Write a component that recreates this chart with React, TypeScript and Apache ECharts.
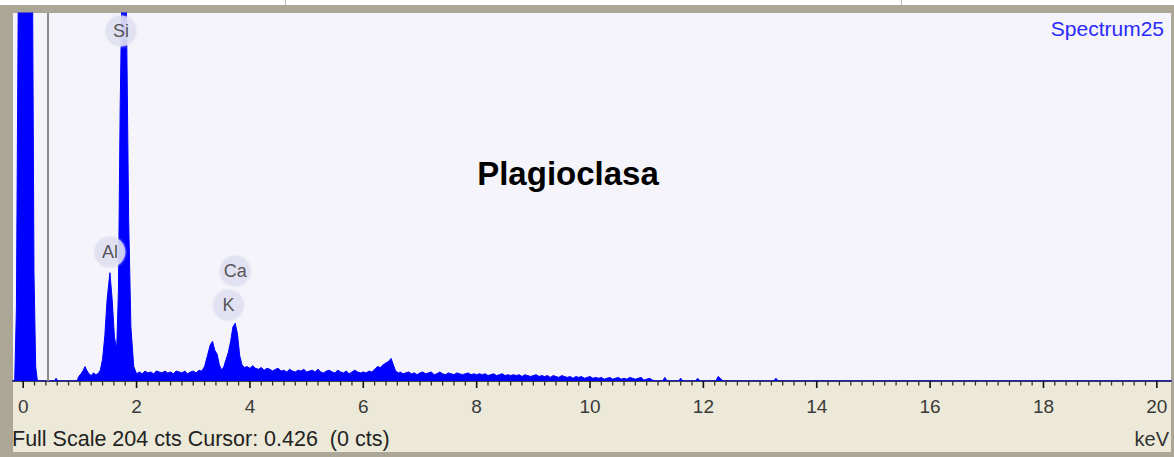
import React, { useEffect, useRef } from 'react';
import * as echarts from 'echarts';

// ---- Spectrum data: [energy keV, counts] ----
const zeroStrobePeak: [number, number][] = [
  [-0.2, 0], [-0.15, 0], [-0.12, 40], [-0.08, 250], [0.16, 250], [0.19, 60], [0.22, 8], [0.25, 0],
  [0.55, 0], [0.58, 1.5], [0.61, 0], [0.95, 0],
];
const lowBackground: [number, number][] = [
  [0.98, 2.5], [1.02, 4], [1.06, 6], [1.09, 8], [1.12, 6], [1.16, 4], [1.2, 3], [1.24, 4.5],
  [1.28, 3.5], [1.32, 4], [1.36, 6],
];
const alSiPeaks: [number, number][] = [
  [1.4, 12], [1.44, 25], [1.48, 45], [1.53, 60], [1.57, 45], [1.61, 24], [1.65, 18],
  [1.68, 50], [1.71, 150], [1.74, 215], [1.78, 260], [1.82, 210], [1.86, 90], [1.9, 30],
  [1.95, 8],
];
const background1: [number, number][] = [
  [2.0, 4], [2.05, 5], [2.1, 4], [2.15, 5.5], [2.2, 4.5], [2.25, 5], [2.3, 4], [2.35, 5.5],
  [2.4, 5], [2.45, 4.5], [2.5, 5.5], [2.55, 4.5], [2.6, 5], [2.65, 4], [2.7, 5.5], [2.75, 5],
  [2.8, 4.5], [2.85, 5.5], [2.9, 4], [2.95, 5], [3.0, 5.5], [3.05, 4.5], [3.1, 6], [3.15, 5.5],
  [3.2, 8],
];
const kCaPeaks: [number, number][] = [
  [3.25, 14], [3.3, 20], [3.34, 22], [3.38, 17], [3.42, 15], [3.46, 9], [3.5, 6], [3.54, 8],
  [3.58, 12], [3.62, 16], [3.66, 22], [3.7, 30], [3.74, 32], [3.78, 26], [3.82, 14], [3.86, 9],
  [3.9, 7.5],
];
const background2: [number, number][] = [
  [3.95, 8], [4.0, 7], [4.05, 8.5], [4.1, 7], [4.15, 6.5], [4.2, 7.5], [4.25, 6], [4.3, 7],
  [4.35, 6.5], [4.4, 5.5], [4.45, 6.5], [4.5, 7], [4.55, 5.5], [4.6, 6], [4.65, 5], [4.7, 6.5],
  [4.75, 5.5], [4.8, 5], [4.85, 6], [4.9, 5.5], [4.95, 6.5], [5.0, 5], [5.05, 5.5], [5.1, 6],
  [5.15, 5], [5.2, 6.5], [5.25, 5], [5.3, 4.5], [5.35, 5.5], [5.4, 6], [5.45, 5], [5.5, 4.5],
  [5.55, 6], [5.6, 5], [5.65, 4.5], [5.7, 5.5], [5.75, 4], [5.8, 5], [5.85, 6], [5.9, 5],
  [5.95, 4.5], [6.0, 5], [6.05, 4.5], [6.1, 5.5], [6.15, 5], [6.2, 6.5],
];
const fePeak: [number, number][] = [
  [6.25, 8], [6.3, 7.5], [6.35, 9], [6.4, 10], [6.45, 11], [6.49, 12.5], [6.53, 9], [6.57, 5.5],
  [6.62, 4.5],
];
const background3: [number, number][] = [
  [6.65, 5], [6.7, 4], [6.75, 4.5], [6.8, 5], [6.85, 4], [6.9, 4.5], [6.95, 3.5], [7.0, 4.5],
  [7.05, 5], [7.1, 4], [7.15, 4.5], [7.2, 5], [7.25, 3.5], [7.3, 4], [7.35, 5], [7.4, 4],
  [7.45, 3.5], [7.5, 4.5], [7.55, 4], [7.6, 3.5], [7.65, 4.5], [7.7, 4], [7.75, 3.5], [7.8, 4],
  [7.85, 4.5], [7.9, 3.5], [7.95, 4], [8.0, 3.5], [8.05, 4], [8.1, 3.5], [8.15, 4], [8.2, 3],
  [8.25, 3.5], [8.3, 4], [8.35, 3], [8.4, 3.5], [8.45, 4], [8.5, 3], [8.55, 3.5], [8.6, 3],
  [8.65, 3.5], [8.7, 3], [8.75, 3.5], [8.8, 2.5], [8.85, 3.5], [8.9, 3], [8.95, 2.5], [9.0, 3],
  [9.05, 3.5], [9.1, 2.5], [9.15, 3], [9.2, 2.5], [9.25, 3], [9.3, 2], [9.35, 3], [9.4, 2.5],
  [9.45, 2], [9.5, 3], [9.55, 2.5], [9.6, 2], [9.65, 2.5], [9.7, 1.5], [9.75, 2.5], [9.8, 2],
  [9.85, 2.5], [9.9, 1.5], [9.95, 2], [10.0, 2.5], [10.05, 1.5], [10.1, 2], [10.15, 1.5],
  [10.2, 2], [10.25, 1], [10.3, 1.5], [10.35, 2], [10.4, 1], [10.45, 1.5], [10.5, 2], [10.55, 1],
  [10.6, 1.5], [10.65, 1], [10.7, 2], [10.75, 1.5], [10.8, 1], [10.85, 1.5], [10.9, 2],
  [10.95, 0.5], [11.0, 1], [11.05, 1.5], [11.1, 0.5],
];
const sparseTail: [number, number][] = [
  [11.15, 0], [11.28, 0], [11.32, 2], [11.36, 0], [11.56, 0], [11.6, 1.5], [11.64, 0],
  [11.86, 0], [11.9, 1.5], [11.94, 0], [12.22, 0], [12.26, 2.5], [12.3, 1.5], [12.34, 0],
  [13.24, 0], [13.28, 1.5], [13.32, 0], [20.3, 0],
];

// ---- Element markers ----
const elementNames = ['Si', 'Al', 'Ca', 'K'];
const elementKeV = [1.725, 1.53, 3.74, 3.62];
const elementLabelCts = [194, 71.5, 61, 42];

// ---- Axis ----
const majorTicks = [0, 2, 4, 6, 8, 10, 12, 14, 16, 18, 20];
const tickLabels = ['0', '2', '4', '6', '8', '10', '12', '14', '16', '18', '20'];
const minorTickStep = 0.2;
const fullScaleCts = 204;
const cursorKeV = 0.426;
const cursorCts = 0;

const spectrum = [
  ...zeroStrobePeak, ...lowBackground, ...alSiPeaks, ...background1, ...kCaPeaks,
  ...background2, ...fePeak, ...background3, ...sparseTail,
];

const FONT = '"Liberation Sans", Arial, sans-serif';

export default function App() {
  const ref = useRef<HTMLDivElement>(null);
  useEffect(() => {
    if (!ref.current) return;
    const chart = echarts.init(ref.current, undefined, { renderer: 'svg' });
    const tickData: [number, number][] = [];
    for (let i = 0; i <= 100; i++) {
      const v = Math.round(i * minorTickStep * 10) / 10;
      tickData.push([v, majorTicks.indexOf(v) >= 0 ? 1 : 0]);
    }
    chart.setOption({
      animation: false,
      backgroundColor: 'transparent',
      grid: {
        left: 13, right: 3, top: 13, bottom: 76,
        show: true, backgroundColor: '#f4f4fa', borderWidth: 0,
      },
      xAxis: {
        type: 'value', min: -0.18, max: 20.25, position: 'bottom',
        axisLine: { show: true, onZero: false, lineStyle: { color: '#111', width: 1.5 } },
        axisTick: { show: false },
        axisLabel: {
          customValues: majorTicks,
          formatter: (v: number) => tickLabels[majorTicks.indexOf(v)] ?? '',
          margin: 16, fontSize: 19, color: '#3a3a3a', fontFamily: FONT,
        },
        splitLine: { show: false },
      },
      yAxis: { type: 'value', min: 0, max: fullScaleCts, show: false, splitLine: { show: false } },
      series: [
        {
          type: 'line', data: spectrum, symbol: 'none', showSymbol: false,
          lineStyle: { color: '#0000ff', width: 1 },
          areaStyle: { color: '#0000ff', opacity: 1 },
          z: 2,
          markLine: {
            silent: true, symbol: 'none', label: { show: false },
            lineStyle: { color: '#8c8c8c', width: 2, type: 'solid' },
            data: [{ xAxis: cursorKeV }],
          },
        },
        {
          type: 'custom', data: tickData, silent: true, clip: false, z: 6,
          renderItem: (_params: any, api: any) => {
            const p = api.coord([api.value(0), 0]);
            const major = api.value(1) === 1;
            return {
              type: 'line',
              shape: { x1: p[0], y1: p[1], x2: p[0], y2: p[1] + (major ? 7 : 4.5) },
              style: { stroke: major ? '#111' : '#333', lineWidth: major ? 1.6 : 1.3 },
            };
          },
        },
        {
          type: 'scatter', z: 5,
          data: elementNames.map((n, i) => ({ name: n, value: [elementKeV[i], elementLabelCts[i]] })),
          symbolSize: 31,
          itemStyle: { color: 'rgba(224,224,240,0.95)', shadowColor: 'rgba(224,224,240,0.9)', shadowBlur: 3 },
          label: { show: true, position: 'inside', formatter: '{b}', color: '#2e2e2e', fontSize: 18, fontFamily: FONT },
        },
      ],
      graphic: [
        {
          type: 'text', style: {
            text: 'Plagioclasa', x: 568, y: 173, align: 'center', verticalAlign: 'middle',
            font: `bold 33px ${FONT}`, fill: '#000',
          },
        },
        {
          type: 'text', style: {
            text: 'Spectrum25', x: 1164, y: 28, align: 'right', verticalAlign: 'middle',
            font: `21px ${FONT}`, fill: '#2a2aff',
          },
        },
        {
          type: 'text', style: {
            text: `Full Scale ${fullScaleCts} cts Cursor: ${cursorKeV}  (${cursorCts} cts)`,
            x: 12, y: 439, align: 'left', verticalAlign: 'middle',
            font: `21.5px ${FONT}`, fill: '#222',
          },
        },
        {
          type: 'text', style: {
            text: 'keV', x: 1169, y: 439, align: 'right', verticalAlign: 'middle',
            font: `20px ${FONT}`, fill: '#333',
          },
        },
      ],
    });
    return () => chart.dispose();
  }, []);

  return (
    <div style={{ position: 'fixed', left: 0, top: 0, width: 1174, height: 457, background: '#ffffff', overflow: 'hidden' }}>
      <div style={{ position: 'absolute', left: 285, top: -1, width: 615, height: 5, border: '1px solid #b8b8b8', background: '#fff' }} />
      <div style={{ position: 'absolute', left: 0, top: 5, width: 1174, height: 452, background: '#aca697' }} />
      <div style={{ position: 'absolute', left: 13, top: 381, width: 1158, height: 71, background: '#ece9d8' }} />
      <div ref={ref} style={{ position: 'absolute', left: 0, top: 0, width: 1174, height: 457 }} />
    </div>
  );
}
